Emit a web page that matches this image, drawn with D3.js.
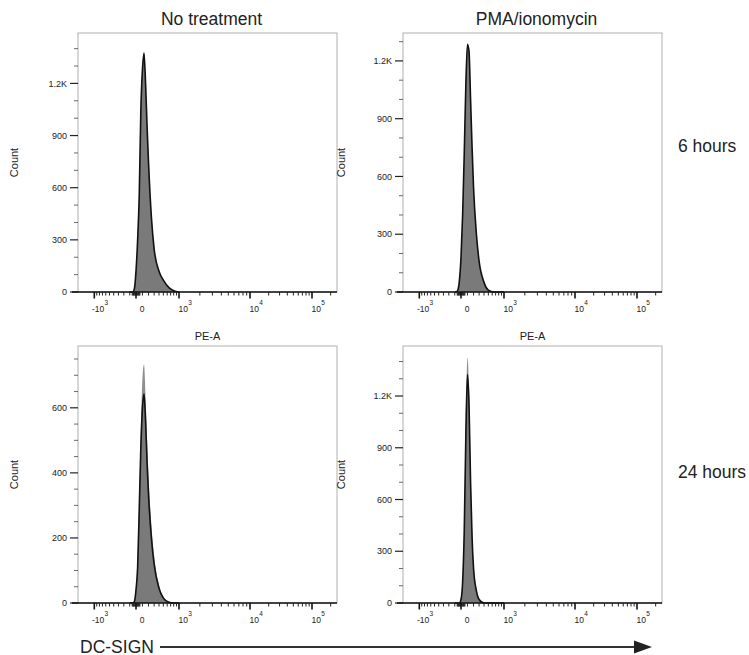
<!DOCTYPE html>
<html>
<head>
<meta charset="utf-8">
<script src="https://cdn.jsdelivr.net/npm/d3@7"></script>
<style>
  body { margin: 0; background: #fff; }
  text { font-family: "Liberation Sans", Arial, sans-serif; fill: #222; }
</style>
</head>
<body>
<div id="chart"></div>
<script>
// intensity bins (PE-A) shared by every histogram
const binValues = [-100, -75, -50, -25, 0, 25, 50, 75, 100, 125, 150, 175, 200, 250, 300, 400, 500, 650, 800, 1000];

const conditions = ["No treatment", "PMA/ionomycin"];
const timepoints = ["6 hours", "24 hours"];

// counts per bin: gray = filled overlay, black = outlined overlay
const grayNoTx6h   = [0, 0, 0, 25, 130, 310, 580, 1070, 1300, 1385, 1210, 960, 750, 440, 255, 125, 70, 27, 9, 0];
const blackNoTx6h  = [0, 0, 0, 20, 120, 300, 560, 1050, 1280, 1372, 1200, 950, 740, 430, 250, 120, 68, 25, 8, 0];
const grayPma6h    = [0, 0, 12, 65, 190, 410, 730, 1090, 1293, 1260, 1010, 760, 550, 305, 165, 52, 11, 0, 0, 0];
const blackPma6h   = [0, 0, 10, 60, 180, 400, 720, 1080, 1285, 1250, 1000, 750, 540, 300, 160, 50, 10, 0, 0, 0];
const grayNoTx24h  = [0, 0, 0, 8, 50, 130, 320, 540, 690, 733, 630, 500, 390, 240, 145, 55, 20, 4, 0, 0];
const blackNoTx24h = [0, 0, 0, 5, 40, 110, 290, 480, 600, 643, 560, 430, 330, 200, 120, 45, 15, 2, 0, 0];
const grayPma24h   = [0, 0, 0, 0, 30, 150, 470, 1060, 1422, 1240, 780, 430, 230, 85, 28, 3, 0, 0, 0, 0];
const blackPma24h  = [0, 0, 0, 0, 20, 120, 420, 980, 1325, 1150, 700, 380, 200, 70, 20, 0, 0, 0, 0, 0];

const panelGray  = [[grayNoTx6h, grayPma6h], [grayNoTx24h, grayPma24h]];
const panelBlack = [[blackNoTx6h, blackPma6h], [blackNoTx24h, blackPma24h]];

// y axes
const yMax       = [[1490, 1345], [790, 1490]];
const yMajorStep = [[300, 300], [200, 300]];
const yMinorStep = [[100, 100], [50, 100]];

// x axis (biexponential)
const xMajorTicks  = [-1000, 0, 1000, 10000, 100000];
const xMajorLabels = [["-10", "3"], ["0", ""], ["10", "3"], ["10", "4"], ["10", "5"]];
const xMinorTicks  = [-900, -800, -700, -600, -500, -400, -300, -200, -100,
  -60, -50, -40, -30, -20, -10, 10, 20, 30, 40, 50, 60,
  100, 200, 300, 400, 500, 600, 700, 800, 900,
  2000, 3000, 4000, 5000, 6000, 7000, 8000, 9000,
  20000, 30000, 40000, 50000, 60000, 70000, 80000, 90000, 200000];

const W = 749, H = 655;
const svg = d3.select("#chart").append("svg").attr("width", W).attr("height", H);

const plotW = 259;
const lefts = [78, 403];
const tops = [33, 346];
const heights = [259, 257];

const asinhT = v => Math.asinh(v / 400);
const xRel = d3.scaleLinear()
  .domain(xMajorTicks.map(asinhT))
  .range([16.3, 58, 101, 172, 234]);
const x = v => xRel(asinhT(v));

for (let r = 0; r < 2; r++) {
  for (let c = 0; c < 2; c++) {
    const ph = heights[r];
    const g = svg.append("g").attr("transform", "translate(" + lefts[c] + "," + tops[r] + ")");

    const y = d3.scaleLinear().domain([0, yMax[r][c]]).range([ph, 0]);

    // frame
    g.append("rect")
      .attr("x", 0).attr("y", 0).attr("width", plotW).attr("height", ph)
      .attr("fill", "none").attr("stroke", "#b0b0b0").attr("stroke-width", 1);

    const gray = binValues.map((v, i) => ({v: v, n: panelGray[r][c][i]}));
    const black = binValues.map((v, i) => ({v: v, n: panelBlack[r][c][i]}));

    const area = d3.area()
      .x(d => x(d.v)).y0(y(0)).y1(d => y(d.n))
      .curve(d3.curveMonotoneX);
    const line = d3.line()
      .x(d => x(d.v)).y(d => y(d.n))
      .curve(d3.curveMonotoneX);

    g.append("path").attr("d", area(gray)).attr("fill", "#8e8e8e");
    g.append("path").attr("d", area(black)).attr("fill", "#7a7a7a");
    g.append("path").attr("d", line(black))
      .attr("fill", "none").attr("stroke", "#111").attr("stroke-width", 1.6);

    // y axis ticks
    const majors = d3.range(0, yMax[r][c] + 1, yMajorStep[r][c]);
    const minors = d3.range(0, yMax[r][c] + 1, yMinorStep[r][c]).filter(v => majors.indexOf(v) < 0);
    g.selectAll("line.ymin").data(minors).enter().append("line")
      .attr("x1", -4).attr("x2", 0)
      .attr("y1", d => y(d)).attr("y2", d => y(d))
      .attr("stroke", "#444").attr("stroke-width", 0.8);
    g.selectAll("line.ymaj").data(majors).enter().append("line")
      .attr("x1", -8).attr("x2", 0)
      .attr("y1", d => y(d)).attr("y2", d => y(d))
      .attr("stroke", "#222").attr("stroke-width", 1.2);
    g.selectAll("text.ylab").data(majors).enter().append("text")
      .attr("x", -11).attr("y", d => y(d)).attr("dy", "0.35em")
      .attr("text-anchor", "end").attr("font-size", 9)
      .text(d => d >= 1000 ? (d / 1000) + "K" : d);

    g.append("text")
      .attr("transform", "translate(" + (c === 0 ? -60 : -58) + "," + (ph / 2) + ") rotate(-90)")
      .attr("text-anchor", "middle").attr("font-size", 11)
      .text("Count");

    // x axis
    g.append("line").attr("x1", -6).attr("x2", plotW).attr("y1", ph).attr("y2", ph)
      .attr("stroke", "#111").attr("stroke-width", 1.6);
    g.selectAll("line.xmin").data(xMinorTicks).enter().append("line")
      .attr("x1", d => x(d)).attr("x2", d => x(d))
      .attr("y1", ph).attr("y2", ph + 3.5)
      .attr("stroke", "#222").attr("stroke-width", 1);
    g.selectAll("line.xmaj").data(xMajorTicks).enter().append("line")
      .attr("x1", d => x(d)).attr("x2", d => x(d))
      .attr("y1", ph).attr("y2", ph + 6.5)
      .attr("stroke", "#111").attr("stroke-width", 1.6);

    // tick labels: base text and superscript drawn as separate texts
    xMajorTicks.forEach((d, i) => {
      const base = xMajorLabels[i][0], sup = xMajorLabels[i][1];
      if (sup === "") {
        g.append("text").attr("x", x(d) + 6).attr("y", ph + 20)
          .attr("text-anchor", "middle").attr("font-size", 8.5).text(base);
      } else {
        const xe = x(d) + (base.charAt(0) === "-" ? 10 : 9);
        g.append("text").attr("x", xe).attr("y", ph + 20)
          .attr("text-anchor", "end").attr("font-size", 8.5).text(base);
        g.append("text").attr("x", xe + 0.3).attr("y", ph + 12.5)
          .attr("text-anchor", "start").attr("font-size", 6.5).text(sup);
      }
    });

    if (r === 0) {
      g.append("text").attr("x", plotW / 2 + 4).attr("y", -8)
        .attr("text-anchor", "middle").attr("font-size", 17.5)
        .text(conditions[c]);
      g.append("text").attr("x", plotW / 2).attr("y", ph + 48)
        .attr("text-anchor", "middle").attr("font-size", 11)
        .text("PE-A");
    }
  }
}

// row labels
svg.selectAll("text.row").data(timepoints).enter().append("text")
  .attr("x", 678).attr("y", (d, i) => i === 0 ? 152 : 478)
  .attr("font-size", 17.5)
  .text(d => d);

// DC-SIGN arrow
svg.append("text").attr("x", 80).attr("y", 652.5).attr("font-size", 17.5).text("DC-SIGN");
svg.append("line").attr("x1", 160).attr("x2", 638).attr("y1", 647).attr("y2", 647)
  .attr("stroke", "#333").attr("stroke-width", 2);
svg.append("path").attr("d", "M634,640.5L652,647L634,653.5Z").attr("fill", "#222");
</script>
</body>
</html>
